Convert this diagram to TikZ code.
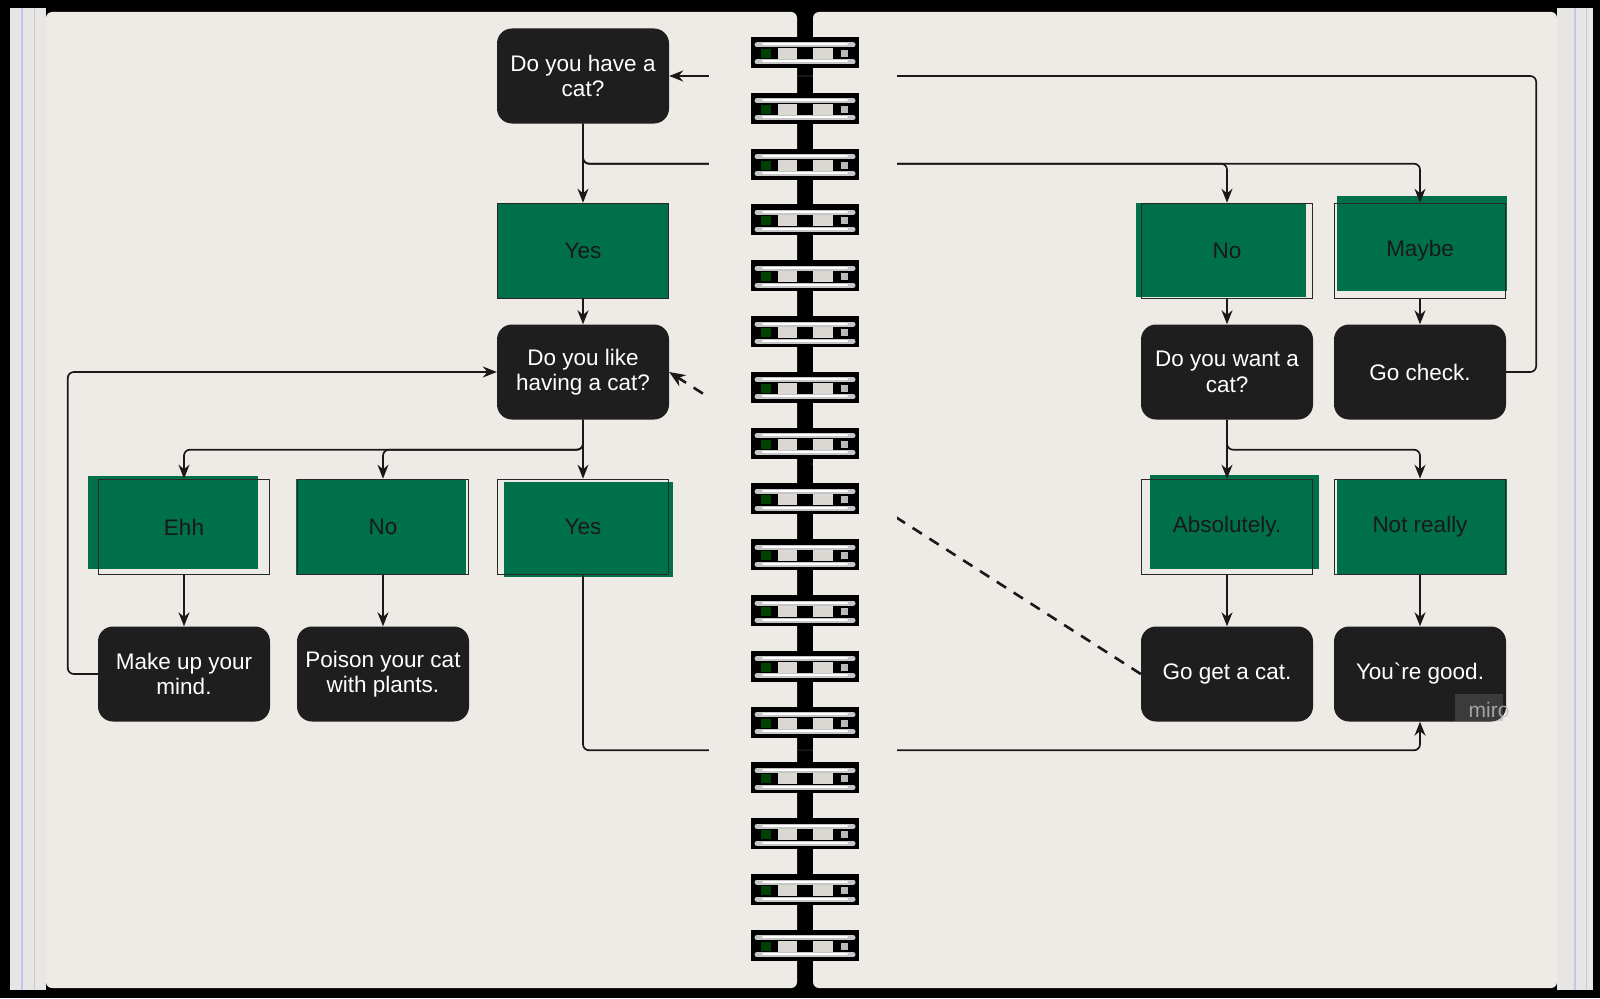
\documentclass[tikz,border=0pt]{standalone}
\usepackage{fontspec}
\setmainfont{Liberation Sans}
\usetikzlibrary{arrows.meta}

\definecolor{pagecol}{RGB}{238,235,231}
\definecolor{stackcol}{RGB}{232,230,229}
\definecolor{boxblack}{RGB}{30,30,30}
\definecolor{boxgreen}{RGB}{0,112,74}
\definecolor{edgecol}{RGB}{40,40,40}

\tikzset{
  qbox/.style={rectangle, rounded corners=15pt, fill=boxblack, text=white, inner sep=0pt,
    minimum width=172pt, minimum height=95pt, align=center, font=\fontsize{22.5}{25.5}\selectfont},
  abox/.style={rectangle, draw=edgecol, line width=1.6pt, text=black!90, inner sep=0pt,
    minimum width=171pt, minimum height=95pt, align=center, font=\fontsize{22.5}{25.5}\selectfont},
  link/.style={draw=black!90, line width=1.7pt, rounded corners=6pt, -{Stealth[length=14pt,width=11pt]}},
  dlink/.style={draw=black!90, line width=2.6pt, dash pattern=on 11pt off 9pt, -{Stealth[length=16pt,width=13pt]}},
  wire/.style={draw=gray!45, line width=5pt, line cap=round},
  ring/.pic={
    \fill[black] (-54,-16) rectangle (54,15);
    \fill[pagecol!92!black] (-27,-5) rectangle (-8,6);
    \fill[pagecol!92!black] (8,-5) rectangle (28,6);
    \fill[green!25!black] (-44,-4) rectangle (-34,5);
    \fill[gray!55] (36,-3) rectangle (43,4);
    \draw[wire] (-48,-8) -- (48,-8);
    \draw[wire] (-48,9) -- (48,9);
    \draw[white, line width=2pt, line cap=round] (-42,-8.5) -- (42,-8.5);
    \draw[white, line width=2pt, line cap=round] (-42,8.5) -- (42,8.5);
  }
}

\begin{document}
\begin{tikzpicture}[x=1pt,y=-1pt]
  \useasboundingbox (0,0) rectangle (1600,998);
  \fill[black] (0,0) rectangle (1600,998);

  % Cuaderno
  \fill[stackcol] (10,8) rectangle (46,990);
  \draw[gray!45!blue!30, line width=1.5pt] (22,8) -- (22,990);
  \draw[gray!40, line width=1pt] (34,8) -- (34,990);
  \fill[stackcol] (1557,8) rectangle (1593,990);
  \draw[gray!45!blue!30, line width=1.5pt] (1575,8) -- (1575,990);
  \draw[gray!40, line width=1pt] (1586,8) -- (1586,990);
  \fill[pagecol, rounded corners=6pt] (46,12) rectangle (797,988);
  \fill[pagecol, rounded corners=6pt] (813,12) rectangle (1557,988);

  % Relleno verde
  \fill[boxgreen] (497,203) rectangle (668,299);
  \fill[boxgreen] (88,476) rectangle (258,569);
  \fill[boxgreen] (296,479) rectangle (466,575);
  \fill[boxgreen] (504,482) rectangle (673,577);
  \fill[boxgreen] (1136,203) rectangle (1306,297);
  \fill[boxgreen] (1337,196) rectangle (1507,291);
  \fill[boxgreen] (1150,475) rectangle (1319,569);
  \fill[boxgreen] (1337,479) rectangle (1507,575);

  % Pagina izquierda
  \node[qbox] (have) at (583,76) {Do you have a\\cat?};
  \node[abox] (yesA) at (583,251) {Yes};
  \node[qbox] (like) at (583,372) {Do you like\\having a cat?};
  \node[abox] (ehh) at (184,527) {Ehh};
  \node[abox] (noA) at (383,527) {No};
  \node[abox] (yesB) at (583,527) {Yes};
  \node[qbox] (mind) at (184,674) {Make up your\\mind.};
  \node[qbox] (poison) at (383,674) {Poison your cat\\with plants.};

  % Pagina derecha
  \node[abox] (noB) at (1227,251) {No};
  \node[abox] (maybe) at (1420,251) {Maybe};
  \node[qbox] (want) at (1227,372) {Do you want a\\cat?};
  \node[qbox] (check) at (1420,372) {Go check.};
  \node[abox] (absol) at (1227,527) {Absolutely.};
  \node[abox] (notreally) at (1420,527) {Not really};
  \node[qbox] (getcat) at (1227,674) {Go get a cat.};
  \node[qbox] (good) at (1420,674) {You\textasciigrave re good.};

  % Flechas
  \draw[link] (have.south) -- (yesA.north);
  \draw[link] (have.south) -- ++(0,40) -| (noB.north);
  \draw[link] (have.south) -- ++(0,40) -| (maybe.north);
  \draw[link] (yesA.south) -- (like.north);
  \draw[link] (like.south) -- ++(0,30) -| (ehh.north);
  \draw[link] (like.south) -- ++(0,30) -| (noA.north);
  \draw[link] (like.south) -- (yesB.north);
  \draw[link] (ehh.south) -- (mind.north);
  \draw[link] (noA.south) -- (poison.north);
  \draw[link] (mind.west) -- ++(-30,0) |- (like.west);
  \draw[link] (yesB.south) -- ++(0,175) -| (good.south);
  \draw[link] (noB.south) -- (want.north);
  \draw[link] (maybe.south) -- (check.north);
  \draw[link] (want.south) -- ++(0,30) -| (absol.north);
  \draw[link] (want.south) -- ++(0,30) -| (notreally.north);
  \draw[link] (absol.south) -- (getcat.north);
  \draw[link] (notreally.south) -- (good.north);
  \draw[link] (check.east) -- ++(30,0) |- (have.east);
  \draw[dlink] (getcat.west) -- (like.east);

  % Espiral
  \fill[pagecol] (709,50) rectangle (797,770);
  \fill[pagecol] (813,50) rectangle (897,770);
  \pic at (805,53) {ring};
  \pic at (805,108.8) {ring};
  \pic at (805,164.6) {ring};
  \pic at (805,220.4) {ring};
  \pic at (805,276.2) {ring};
  \pic at (805,332) {ring};
  \pic at (805,387.8) {ring};
  \pic at (805,443.6) {ring};
  \pic at (805,499.4) {ring};
  \pic at (805,555.2) {ring};
  \pic at (805,611) {ring};
  \pic at (805,666.8) {ring};
  \pic at (805,722.6) {ring};
  \pic at (805,778.4) {ring};
  \pic at (805,834.2) {ring};
  \pic at (805,890) {ring};
  \pic at (805,945.8) {ring};

  % Marca de agua
  \fill[gray, opacity=0.3] (1455,694) rectangle (1503,721);
  \node[text=gray!50, opacity=0.8, font=\fontsize{21}{21}\selectfont] (miro) at (1489,710) {miro};
\end{tikzpicture}
\end{document}
